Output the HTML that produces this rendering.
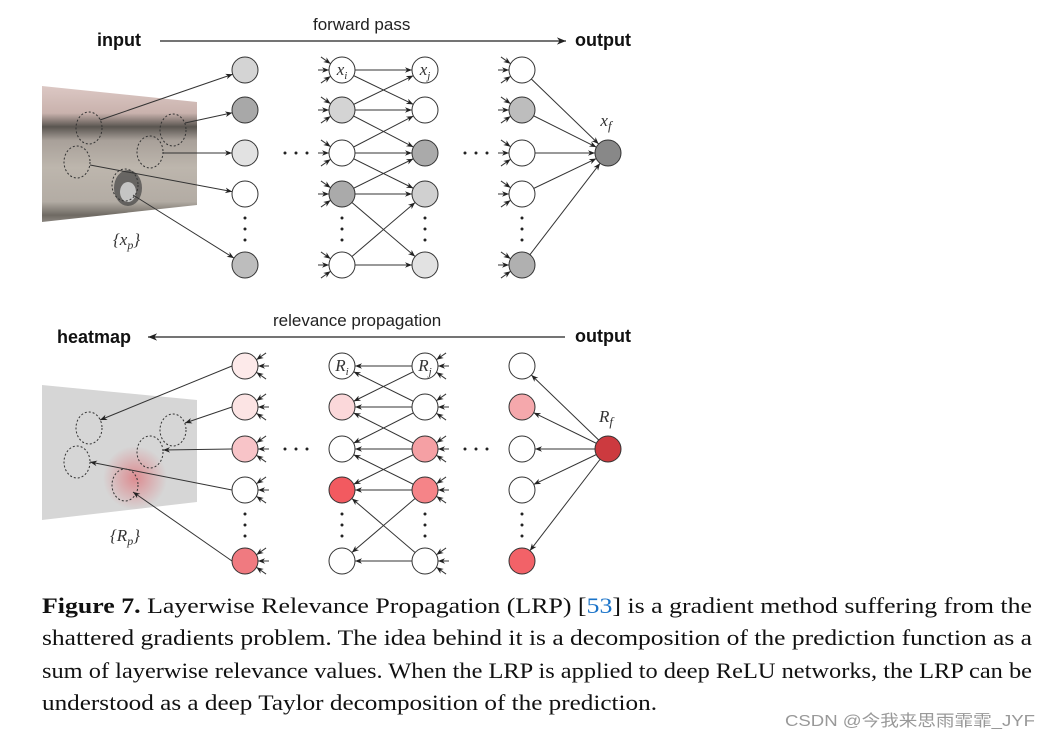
<!DOCTYPE html>
<html><head><meta charset="utf-8"><style>
html,body{margin:0;padding:0;background:#fff;width:1051px;height:739px;overflow:hidden}
svg{display:block}
.b{font-family:"Liberation Sans",sans-serif;font-weight:bold;font-size:18px;fill:#111}
.s{font-family:"Liberation Sans",sans-serif;font-size:17px;fill:#222}
.m{font-family:"Liberation Serif",serif;font-style:italic;font-size:17px;fill:#333}
.c{font-family:"Liberation Serif",serif;font-size:22px;fill:#111}
</style></head><body>
<svg id="s" width="1051" height="739" viewBox="0 0 1051 739" xmlns="http://www.w3.org/2000/svg">
<defs>
<marker id="a" viewBox="0 0 10 10" refX="10" refY="5" markerWidth="7" markerHeight="7" orient="auto"><path d="M0,1 L10,5 L0,9 L3,5z" fill="#222"/></marker>
<linearGradient id="ph" x1="0" y1="0" x2="0" y2="1">
<stop offset="0" stop-color="#dcc8c4"/><stop offset="0.2" stop-color="#c9b2ad"/><stop offset="0.3" stop-color="#5a5550"/><stop offset="0.4" stop-color="#a8a099"/><stop offset="0.6" stop-color="#bdb6ad"/><stop offset="0.85" stop-color="#b3aca4"/><stop offset="0.95" stop-color="#6f6a63"/><stop offset="1" stop-color="#8a857f"/></linearGradient>
<radialGradient id="rb"><stop offset="0" stop-color="#e05a62" stop-opacity="0.6"/><stop offset="1" stop-color="#e05a62" stop-opacity="0"/></radialGradient>
</defs>
<text class="b" x="97" y="46">input</text>
<text class="s" x="313" y="30">forward pass</text>
<line x1="160" y1="41" x2="566" y2="41" stroke="#222" stroke-width="1.3" marker-end="url(#a)"/>
<text class="b" x="575" y="46">output</text>
<polygon points="42,86 197,102 197,205 42,222" fill="url(#ph)"/>
<ellipse cx="128" cy="188" rx="14" ry="18" fill="#444" opacity="0.7"/>
<ellipse cx="128" cy="192" rx="8" ry="10" fill="#ddd" opacity="0.8"/>
<text class="m" x="113" y="245">{x<tspan font-size="12" dy="4">p</tspan><tspan dy="-4">}</tspan></text>

<text class="b" x="57" y="343">heatmap</text>
<text class="s" x="273" y="326">relevance propagation</text>
<line x1="565" y1="337" x2="148" y2="337" stroke="#222" stroke-width="1.3" marker-end="url(#a)"/>
<text class="b" x="575" y="342">output</text>
<polygon points="42,385 197,400 197,502 42,520" fill="#d6d6d6"/>
<ellipse cx="135" cy="478" rx="32" ry="32" fill="url(#rb)"/>
<text class="m" x="110" y="541">{R<tspan font-size="12" dy="4">p</tspan><tspan dy="-4">}</tspan></text>

<text class="c" x="42" y="613" textLength="990" lengthAdjust="spacingAndGlyphs"><tspan font-weight="bold">Figure 7.</tspan> Layerwise Relevance Propagation (LRP) [<tspan fill="#1a73c8">53</tspan>] is a gradient method suffering from the</text>
<text class="c" x="42" y="645" textLength="990" lengthAdjust="spacingAndGlyphs">shattered gradients problem. The idea behind it is a decomposition of the prediction function as a</text>
<text class="c" x="42" y="678" textLength="990" lengthAdjust="spacingAndGlyphs">sum of layerwise relevance values. When the LRP is applied to deep ReLU networks, the LRP can be</text>
<text class="c" x="42" y="710" textLength="615" lengthAdjust="spacingAndGlyphs">understood as a deep Taylor decomposition of the prediction.</text>
<text x="785" y="726" textLength="250" lengthAdjust="spacingAndGlyphs" font-family="'Liberation Sans','Noto Sans CJK SC',sans-serif" font-size="16" fill="#999">CSDN @今我来思雨霏霏_JYF</text>
</svg>
<script>
const S=document.getElementById('s'),NS='http://www.w3.org/2000/svg';
function el(t,a,txt){const e=document.createElementNS(NS,t);for(const k in a)e.setAttribute(k,a[k]);if(txt)e.textContent=txt;S.appendChild(e);return e;}
const X=[245,342,425,522],R=13;
function arrow(x1,y1,x2,y2){const dx=x2-x1,dy=y2-y1,l=Math.hypot(dx,dy);el('line',{x1,y1,x2:x2-dx/l*R,y2:y2-dy/l*R,stroke:'#333','stroke-width':1,'marker-end':'url(#a)'});}
function stub(x,y,dir){
 [-0.5,0,0.5].forEach(a=>{const ex=x+dir*R*Math.cos(a),ey=y+R*Math.sin(a);const sx=ex+dir*11*Math.cos(a),sy=ey+11*Math.sin(a)*1.3;
 el('line',{x1:sx,y1:sy,x2:ex,y2:ey,stroke:'#333','stroke-width':1,'marker-end':'url(#a)'});});}
function net(Y,fills,out,o,rev,labs){
 const ed=[[0,0],[0,1],[1,0],[1,1],[1,2],[2,1],[2,2],[2,3],[3,2],[3,3],[3,4],[4,3],[4,4]];
 ed.forEach(([a,b])=>rev?arrow(X[2],Y[b],X[1],Y[a]):arrow(X[1],Y[a],X[2],Y[b]));
 Y.forEach(y=>rev?arrow(o[0],o[1],X[3],y):arrow(X[3],y,o[0],o[1]));
 Y.forEach(y=>{if(!rev){stub(X[1],y,-1);stub(X[3],y,-1);}else{stub(X[0],y,1);stub(X[2],y,1);}});
 for(let c=0;c<4;c++)Y.forEach((y,r)=>el('circle',{cx:X[c],cy:y,r:R,fill:fills[c][r],stroke:'#333','stroke-width':1}));
 el('circle',{cx:o[0],cy:o[1],r:R,fill:out,stroke:'#333','stroke-width':1});
 [[X[0]+40,Y[2]],[X[2]+40,Y[2]]].forEach(([x,y])=>{for(let i=0;i<3;i++)el('circle',{cx:x+i*11,cy:y,r:1.5,fill:'#222'});});
 X.forEach(x=>{for(let i=0;i<3;i++)el('circle',{cx:x,cy:Y[3]+24+i*11,r:1.5,fill:'#222'});});
 mk(X[1],Y[0]+5,labs[0],15);mk(X[2],Y[0]+5,labs[1],15);mk(o[0]-2,o[1]-27,labs[2],18);
}
function mk(x,y,s,fs){const t=el('text',{x,y,'text-anchor':'middle',class:'m','font-size':fs});t.appendChild(document.createTextNode(s[0]));const sp=document.createElementNS(NS,'tspan');sp.setAttribute('font-size',Math.round(fs*0.7));sp.setAttribute('dy','4');sp.textContent=s[1];t.appendChild(sp);}
const Yt=[70,110,153,194,265];
const circ=[[89,128],[173,130],[77,162],[150,152],[125,185]];
circ.forEach(([x,y])=>el('ellipse',{cx:x,cy:y,rx:13,ry:16,fill:'none',stroke:'#333','stroke-dasharray':'2,2'}));
[[100,120,0],[185,123,1],[163,153,2],[90,165,3],[133,195,4]].forEach(([x,y,r])=>arrow(x,y,X[0],Yt[r]));
net(Yt,[['#d4d4d4','#a8a8a8','#e2e2e2','#fff','#bdbdbd'],['#fff','#d4d4d4','#fff','#aaaaaa','#fff'],['#fff','#fff','#aaaaaa','#d0d0d0','#e2e2e2'],['#fff','#bdbdbd','#fff','#fff','#b0b0b0']],'#888',[608,153],false,['xi','xj','xf']);
const Yb=[366,407,449,490,561];
circ.forEach(([x,y])=>el('ellipse',{cx:x,cy:y+300,rx:13,ry:16,fill:'none',stroke:'#333','stroke-dasharray':'2,2'}));
[[100,420,0],[185,423,1],[163,450,2],[90,462,3],[133,492,4]].forEach(([x,y,r])=>el('line',{x1:X[0]-R,y1:Yb[r],x2:x,y2:y,stroke:'#333','stroke-width':1,'marker-end':'url(#a)'}));
net(Yb,[['#fdeaea','#fce4e4','#f8c4c8','#fff','#f07a80'],['#fff','#fbd8da','#fff','#f25a60','#fff'],['#fff','#fff','#f5a0a4','#f58488','#fff'],['#fff','#f5a8ac','#fff','#fff','#f26268']],'#cc3a3f',[608,449],true,['Ri','Rj','Rf']);
</script>
</body></html>
